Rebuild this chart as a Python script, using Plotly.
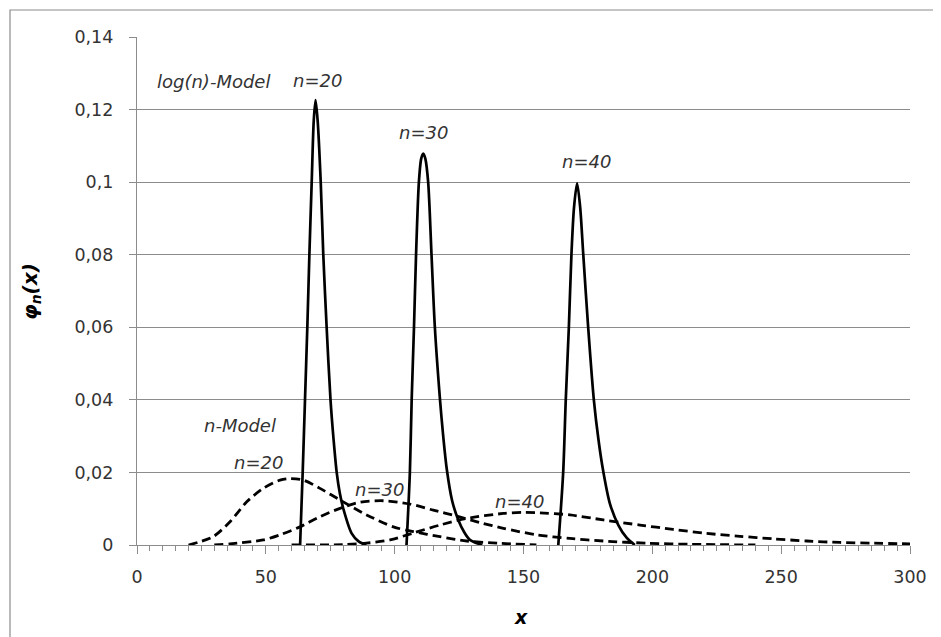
import plotly.graph_objects as go

# log(n)-Model (solid)
log20_x = [63.3, 64.3, 65.2, 66.1, 66.9, 67.8, 68.6, 69.3, 70.1, 71.3, 72.3, 73.6, 75.1, 76.3, 77.5, 78.7, 80, 83.3, 86, 89]
log20_y = [0, 0.02, 0.04, 0.06, 0.08, 0.1, 0.117, 0.1226, 0.117, 0.1, 0.08, 0.06, 0.04, 0.029, 0.02, 0.0143, 0.0102, 0.0032, 0.001, 0]
log30_x = [104.6, 105.9, 106.6, 107.5, 108.3, 109.4, 110.3, 111.1, 111.9, 113, 114.3, 115.6, 117.6, 118.9, 120.2, 122.3, 124.7, 127, 129.2, 134]
log30_y = [0, 0.02, 0.04, 0.06, 0.08, 0.1, 0.1065, 0.1079, 0.1065, 0.1, 0.08, 0.06, 0.04, 0.0295, 0.021, 0.0122, 0.0069, 0.0035, 0.0014, 0]
log40_x = [163.5, 165.4, 166.4, 167.6, 168.6, 169.6, 170.8, 172.0, 173.2, 175.1, 177.3, 179.1, 180.9, 183.5, 186.8, 190, 193.2]
log40_y = [0, 0.02, 0.04, 0.06, 0.08, 0.093, 0.0997, 0.093, 0.08, 0.06, 0.04, 0.029, 0.0205, 0.0115, 0.0055, 0.002, 0]

# n-Model (dashed)
n20_x = [20, 24, 29.6, 36.1, 42.6, 49, 55.5, 59, 64.5, 71, 78.8, 89.1, 99.5, 107.2, 117.6, 128, 140, 155]
n20_y = [0, 0.0008, 0.0023, 0.0064, 0.0119, 0.0156, 0.0179, 0.0183, 0.0179, 0.0156, 0.0124, 0.0083, 0.005, 0.0037, 0.0023, 0.0011, 0.0005, 0]
n30_x = [30, 36, 49, 55.5, 63.3, 71, 78.8, 86.6, 95.6, 105.9, 115, 124, 133, 142.2, 155.1, 168, 181, 197.8, 215, 240]
n30_y = [0, 0.0003, 0.0014, 0.0028, 0.005, 0.0078, 0.0101, 0.0118, 0.0122, 0.0113, 0.0096, 0.008, 0.0062, 0.0046, 0.0028, 0.0018, 0.0011, 0.0005, 0.0002, 0]
n40_x = [60, 80, 89, 98.2, 107.2, 117.6, 127.9, 142.2, 150, 155.1, 168, 181, 195.2, 208, 221, 234, 246.9, 260, 272.8, 286, 300]
n40_y = [0, 0.0001, 0.0005, 0.0014, 0.0033, 0.0055, 0.0073, 0.0087, 0.009, 0.0089, 0.0083, 0.0069, 0.0055, 0.0043, 0.0032, 0.0024, 0.0017, 0.0011, 0.0007, 0.0005, 0.0003]

labels = ["log(n)-Model", "n=20", "n=30", "n=40", "n-Model", "n=20", "n=30", "n=40"]
label_x = [29.5, 70.2, 111, 174.6, 40, 47, 94.3, 148.6]
label_y = [0.1276, 0.128, 0.1138, 0.1058, 0.033, 0.0226, 0.0152, 0.0121]

OFF = 8  # page offset of the figure inside the browser window
W, H = 941, 637
L, T = 137 - OFF, 37 - OFF
pw, ph = 773, 508
R, B = W - L - pw, H - T - ph

fig = go.Figure()
for xs, ys in [(n20_x, n20_y), (n30_x, n30_y), (n40_x, n40_y)]:
    fig.add_trace(go.Scatter(x=xs, y=ys, mode="lines",
                             line=dict(color="black", width=2.8, dash="9px,5px", shape="spline", smoothing=0.8),
                             showlegend=False, hoverinfo="skip"))
for xs, ys in [(log20_x, log20_y), (log30_x, log30_y), (log40_x, log40_y)]:
    fig.add_trace(go.Scatter(x=xs, y=ys, mode="lines",
                             line=dict(color="black", width=2.7, shape="spline", smoothing=0.8),
                             showlegend=False, hoverinfo="skip"))

font_main = "DejaVu Sans"
txt_col = "#333333"
for t, x, y in zip(labels, label_x, label_y):
    fig.add_annotation(x=x, y=y, text="<i>" + t + "</i>", showarrow=False,
                       xanchor="center", yanchor="middle",
                       font=dict(family=font_main, size=18, color=txt_col))


def px_x(p):
    return (p - OFF - L) / pw


def px_y(p):
    return (H - B - (p - OFF)) / ph


# axis titles
fig.add_annotation(xref="paper", yref="paper", x=px_x(521), y=px_y(617),
                   xanchor="center", yanchor="middle",
                   text="<b><i>x</i></b>", showarrow=False,
                   font=dict(family=font_main, size=19, color="black"))
fig.add_annotation(xref="paper", yref="paper", x=px_x(31), y=px_y(292),
                   xanchor="center", yanchor="middle",
                   text="<b><i>φ<sub>n</sub>(x)</i></b>", showarrow=False, textangle=-90,
                   font=dict(family=font_main, size=20, color="black"))

# chart border
fig.add_shape(type="rect", xref="paper", yref="paper",
              x0=px_x(10), x1=px_x(937), y0=px_y(660), y1=px_y(10),
              line=dict(color="#8c8c8c", width=1.2), fillcolor="rgba(0,0,0,0)", layer="below")

grid_col = "#8c8c8c"
fig.update_layout(
    width=W, height=H, margin=dict(l=L, r=R, t=T, b=B),
    paper_bgcolor="white", plot_bgcolor="white",
    separators=", ",
    xaxis=dict(range=[0, 300], dtick=50, tick0=0, showgrid=False, zeroline=False,
               showline=True, linecolor=grid_col, linewidth=1.2,
               ticks="outside", ticklen=8, tickcolor=grid_col, tickwidth=1.2,
               minor=dict(dtick=5, ticks="outside", ticklen=5, tickcolor=grid_col, tickwidth=1),
               ticklabelstandoff=8,
               tickfont=dict(family=font_main, size=17.5, color=txt_col)),
    yaxis=dict(range=[0, 0.14], dtick=0.02, tick0=0, showgrid=True, gridcolor=grid_col, gridwidth=1.2,
               zeroline=False, showline=True, linecolor=grid_col, linewidth=1.2,
               ticks="outside", ticklen=7, tickcolor=grid_col, tickwidth=1.2,
               ticklabelstandoff=12,
               tickfont=dict(family=font_main, size=17.5, color=txt_col)),
)

fig.write_html("out.html")
